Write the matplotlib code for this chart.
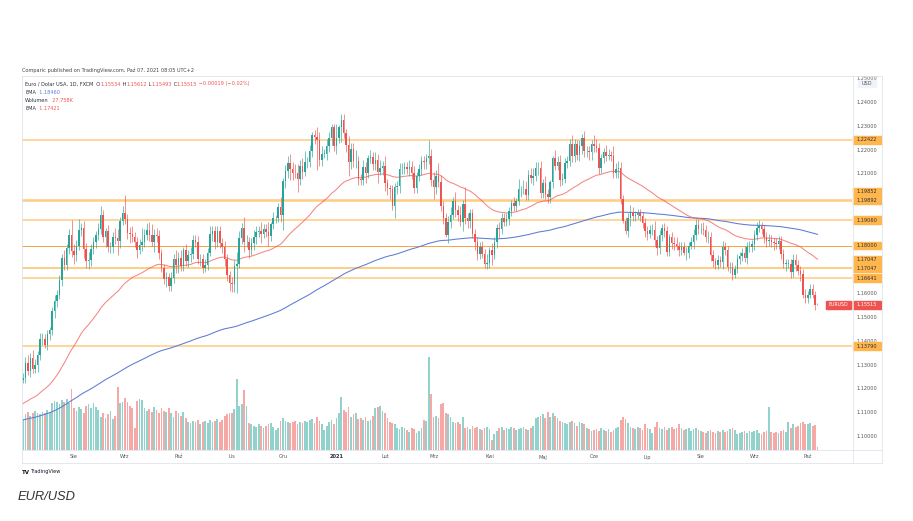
import matplotlib
matplotlib.use("Agg")
import matplotlib.pyplot as plt
from matplotlib.lines import Line2D
from matplotlib.patches import Rectangle
from matplotlib.transforms import blended_transform_factory
import numpy as np

plt.rcParams['font.family'] = ['DejaVu Sans']

W, H = 913, 521

def fx(px):
    return px / W

def fy(py):
    return 1 - py / H

# ============================
# 1. DATOS (EUR/USD diario, jul 2020 - oct 2021)
# ============================
etiquetas_mes = ["Lip", "Sie", "Wrz", "Paź", "Lis", "Gru", "2021", "Lut",
                 "Mrz", "Kwi", "Maj", "Cze", "Lip", "Sie", "Wrz", "Paź"]
dias_mes = [23, 21, 22, 22, 21, 22, 20, 20, 23, 22, 21, 22, 22, 22, 22, 5]

apertura_inicial = 1.1235
cierres = [
    1.1250, 1.1238, 1.1245, 1.1310, 1.1275, 1.1330, 1.1285, 1.1300, 1.1340, 1.1410, 1.1410, 1.1385,
    1.1428, 1.1445, 1.1525, 1.1568, 1.1595, 1.1655, 1.1750, 1.1717, 1.1790, 1.1845, 1.1778,
    1.1762, 1.1800, 1.1865, 1.1875, 1.1785, 1.1735, 1.1740, 1.1785, 1.1815, 1.1843, 1.1870,
    1.1930, 1.1835, 1.1860, 1.1795, 1.1795, 1.1835, 1.1830, 1.1820, 1.1905, 1.1935,
    1.1912, 1.1853, 1.1850, 1.1838, 1.1815, 1.1780, 1.1803, 1.1815, 1.1845, 1.1865, 1.1845,
    1.1815, 1.1845, 1.1840, 1.1770, 1.1705, 1.1660, 1.1670, 1.1630, 1.1665, 1.1745, 1.1720,
    1.1750, 1.1715, 1.1780, 1.1735, 1.1760, 1.1765, 1.1825, 1.1815, 1.1745, 1.1745, 1.1705,
    1.1718, 1.1770, 1.1850, 1.1860, 1.1815, 1.1860, 1.1810, 1.1795, 1.1745, 1.1675, 1.1645,
    1.1640, 1.1715, 1.1722, 1.1830, 1.1875, 1.1815, 1.1815, 1.1780, 1.1810, 1.1835, 1.1855,
    1.1860, 1.1850, 1.1870, 1.1858, 1.1840, 1.1890, 1.1915, 1.1915, 1.1962, 1.1927,
    1.2070, 1.2113, 1.2145, 1.2120, 1.2105, 1.2103, 1.2080, 1.2135, 1.2110, 1.2150, 1.2150,
    1.2195, 1.2265, 1.2255, 1.2240, 1.2160, 1.2185, 1.2185, 1.2215, 1.2250, 1.2295, 1.2215,
    1.2250, 1.2295, 1.2325, 1.2270, 1.2220, 1.2150, 1.2205, 1.2155, 1.2155, 1.2080,
    1.2075, 1.2130, 1.2105, 1.2165, 1.2170, 1.2140, 1.2160, 1.2110, 1.2125, 1.2135,
    1.2060, 1.2040, 1.2035, 1.1965, 1.2045, 1.2050, 1.2120, 1.2120, 1.2130, 1.2120,
    1.2130, 1.2105, 1.2040, 1.2090, 1.2120, 1.2155, 1.2150, 1.2165, 1.2175, 1.2075,
    1.2045, 1.2090, 1.2065, 1.1965, 1.1915, 1.1845, 1.1900, 1.1930, 1.1985, 1.1950, 1.1930,
    1.1900, 1.1975, 1.1915, 1.1905, 1.1935, 1.1850, 1.1815, 1.1765, 1.1795, 1.1765, 1.1725, 1.1728,
    1.1780, 1.1760, 1.1815, 1.1875, 1.1870, 1.1915, 1.1900, 1.1910, 1.1945, 1.1980, 1.1965,
    1.1985, 1.2035, 1.2035, 1.2035, 1.2010, 1.2095, 1.2085, 1.2090, 1.2125, 1.2125, 1.2020,
    1.2060, 1.2015, 1.2005, 1.2065, 1.2165, 1.2135, 1.2150, 1.2075, 1.2080, 1.2145, 1.2155,
    1.2225, 1.2175, 1.2225, 1.2180, 1.2215, 1.2250, 1.2195, 1.2195, 1.2190, 1.2225,
    1.2215, 1.2210, 1.2125, 1.2165, 1.2190, 1.2175, 1.2180, 1.2175, 1.2105, 1.2120, 1.2125,
    1.1995, 1.1905, 1.1860, 1.1915, 1.1940, 1.1925, 1.1930, 1.1935, 1.1925, 1.1895, 1.1860,
    1.1850, 1.1865, 1.1865, 1.1825, 1.1790, 1.1845, 1.1875, 1.1860, 1.1775, 1.1835, 1.1810,
    1.1805, 1.1800, 1.1780, 1.1795, 1.1770, 1.1770, 1.1800, 1.1815, 1.1845, 1.1885, 1.1870,
    1.1870, 1.1865, 1.1835, 1.1835, 1.1760, 1.1735, 1.1720, 1.1740, 1.1730, 1.1795, 1.1780,
    1.1710, 1.1710, 1.1675, 1.1700, 1.1745, 1.1755, 1.1770, 1.1750, 1.1795, 1.1795, 1.1805,
    1.1845, 1.1875, 1.1880, 1.1870, 1.1835, 1.1820, 1.1825, 1.1815, 1.1810, 1.1805, 1.1820,
    1.1765, 1.1725, 1.1725, 1.1725, 1.1690, 1.1740, 1.1720, 1.1695, 1.1680, 1.1595, 1.1580,
    1.1595, 1.1620, 1.1595, 1.15534, 1.15515,
]
# mechas en pips por encima / por debajo del cuerpo
mecha_sup = [
    20, 25, 20, 25, 30, 20, 35, 25, 20, 25, 25, 20, 20, 15, 20, 25, 20, 20, 15, 30, 15, 25, 63,
    30, 25, 45, 20, 30, 25, 35, 20, 20, 20, 25, 36, 20, 15, 25, 20, 20, 40, 40, 15, 30,
    76, 20, 25, 30, 20, 20, 25, 60, 25, 30, 35, 45, 25, 30, 25, 15, 20, 20, 15, 25, 20, 35,
    25, 30, 15, 25, 20, 30, 20, 20, 25, 20, 20, 25, 20, 30, 20, 20, 20, 20, 20, 25, 20, 20,
    25, 25, 50, 30, 20, 45, 30, 20, 20, 30, 25, 20, 40, 20, 20, 40, 10, 25, 15, 15, 40,
    15, 25, 30, 40, 30, 35, 40, 25, 30, 45, 20, 25, 10, 20, 40, 35, 30, 20, 30, 25, 15, 15,
    60, 10, 24, 25, 20, 40, 25, 25, 45, 20, 20, 30, 20, 15, 30, 20, 30, 25, 35, 20,
    40, 20, 15, 20, 15, 20, 25, 25, 20, 20, 30, 25, 30, 20, 20, 20, 20, 20, 68, 30,
    35, 25, 55, 30, 20, 20, 25, 30, 20, 40, 20, 35, 15, 70, 20, 20, 20, 20, 20, 20, 25, 20, 35,
    15, 30, 20, 15, 25, 20, 20, 25, 15, 10, 25, 15, 45, 15, 40, 35, 20, 30, 35, 25, 25, 30,
    20, 30, 20, 10, 10, 35, 25, 30, 25, 20, 20, 20, 40, 20, 15, 25, 16, 30, 20, 20, 15,
    40, 30, 20, 20, 20, 30, 25, 15, 40, 25, 30, 25, 15, 15, 20, 30, 20, 15, 20, 20, 15, 20,
    20, 20, 25, 40, 15, 20, 15, 20, 20, 15, 20, 25, 30, 15, 20, 20, 25, 15, 20, 25, 25, 25,
    25, 30, 20, 25, 20, 20, 15, 20, 15, 25, 20, 20, 20, 20, 20, 20, 20, 20, 30, 20, 25, 20,
    20, 25, 29, 20, 15, 20, 25, 20, 15, 20, 20, 20, 20, 20, 20, 20, 25, 25, 20, 20, 20, 25,
    15, 20, 20, 15, 8,
]
mecha_inf = [
    25, 20, 15, 20, 15, 25, 20, 20, 30, 20, 25, 15, 20, 25, 20, 30, 25, 20, 25, 20, 20, 25, 25,
    40, 25, 20, 25, 35, 30, 35, 25, 20, 25, 20, 20, 20, 40, 20, 25, 25, 25, 60, 30, 20,
    20, 25, 40, 25, 20, 30, 15, 25, 20, 20, 25, 15, 40, 25, 25, 15, 20, 35, 20, 20, 20, 35,
    35, 20, 20, 20, 25, 30, 20, 20, 20, 30, 20, 15, 20, 15, 30, 30, 20, 20, 25, 30, 25, 35,
    35, 35, 112, 15, 25, 40, 20, 30, 20, 30, 30, 20, 40, 20, 20, 40, 20, 20, 20, 15, 30,
    60, 30, 30, 45, 30, 20, 55, 25, 30, 20, 25, 20, 25, 30, 125, 25, 25, 20, 25, 25, 30, 20,
    30, 20, 60, 20, 30, 60, 30, 25, 30, 25, 20, 20, 45, 20, 20, 25, 25, 50, 15, 30,
    30, 30, 40, 15, 50, 30, 30, 20, 20, 20, 30, 25, 20, 20, 20, 25, 30, 30, 25, 25,
    50, 30, 20, 20, 25, 10, 35, 25, 20, 30, 25, 20, 40, 25, 30, 30, 20, 35, 25, 20, 15, 20, 25,
    20, 40, 15, 25, 40, 20, 20, 20, 25, 20, 20, 20, 15, 30, 20, 20, 20, 25, 30, 20, 30, 20,
    20, 20, 25, 25, 25, 20, 20, 25, 20, 20, 20, 20, 25, 25, 20, 25, 30, 25, 25, 30, 30,
    25, 20, 25, 20, 20, 20, 15, 20, 20, 20, 35, 20, 10, 13, 25, 35, 20, 20, 20, 20, 20, 25,
    25, 20, 20, 25, 30, 25, 25, 25, 20, 20, 25, 25, 20, 25, 20, 10, 30, 20, 15, 30, 20, 20,
    20, 20, 20, 25, 25, 25, 20, 20, 20, 30, 20, 15, 25, 20, 11, 15, 20, 20, 20, 25, 20, 20,
    25, 20, 20, 20, 25, 25, 20, 20, 30, 20, 20, 20, 20, 30, 20, 25, 20, 25, 20, 30, 15, 20,
    20, 15, 15, 25, 2,
]
# volumen en miles
volumen = [
    290, 300, 280, 320, 340, 310, 330, 350, 330, 320, 340, 330, 360, 340, 420, 440, 430, 410, 450, 430, 460, 420, 550,
    380, 350, 390, 370, 330, 400, 410, 380, 420, 390, 360, 300, 330, 290, 320, 350, 280, 310, 565, 420, 430,
    470, 430, 400, 380, 200, 440, 460, 450, 380, 350, 370, 340, 390, 360, 330, 380, 350, 340, 380, 330, 300, 350,
    330, 310, 340, 290, 250, 240, 260, 250, 270, 230, 250, 260, 240, 270, 250, 260, 280, 250, 270, 310, 320, 330,
    330, 370, 640, 400, 410, 540, 400, 240, 230, 220, 210, 230, 220, 200, 220, 230, 240, 210, 180, 200, 260,
    290, 260, 250, 240, 250, 260, 230, 250, 240, 260, 250, 270, 280, 240, 300, 260, 230, 180, 220, 250, 270, 230,
    290, 330, 480, 360, 340, 390, 300, 320, 330, 280, 290, 270, 300, 260, 270, 310, 380, 390, 400, 350,
    330, 290, 250, 240, 230, 200, 190, 210, 200, 180, 160, 200, 190, 150, 170, 200, 270, 260, 840, 500,
    300, 310, 290, 410, 420, 330, 320, 300, 250, 240, 250, 230, 300, 200, 210, 190, 220, 200, 210, 190, 180, 200, 210,
    190, 90, 140, 170, 200, 210, 180, 200, 190, 210, 200, 180, 190, 200, 210, 190, 180, 200, 220, 290, 300, 310,
    320, 290, 340, 300, 330, 310, 290, 260, 250, 240, 230, 250, 260, 240, 220, 250, 240, 230, 200, 190, 170,
    180, 190, 170, 200, 180, 170, 190, 160, 180, 200, 210, 270, 300, 280, 240, 210, 200, 190, 210, 200, 180, 230,
    200, 190, 150, 210, 250, 200, 190, 210, 180, 200, 210, 190, 200, 230, 200, 180, 190, 200, 170, 190, 200, 180,
    170, 160, 150, 170, 180, 160, 150, 170, 160, 180, 160, 170, 190, 200, 180, 140, 150, 160, 170, 150, 170, 160,
    170, 180, 150, 140, 160, 170, 390, 160, 150, 160, 150, 170, 180, 160, 250, 200, 230, 210, 220, 240, 250, 230,
    230, 240, 220, 225, 28,
]

# niveles horizontales (en el orden en que se apilan sus etiquetas)
niveles = [1.16641, 1.17047, 1.17047, 1.18000, 1.19060, 1.19892, 1.19852, 1.22422, 1.13790]
nivel_oscuro = 1.18000
precio_actual = 1.15515
ema_lenta_ini = 1.1065   # EMA azul al inicio del grafico
ema_rapida_ini = 1.1125  # EMA roja al inicio del grafico
precios_eje = [1.10, 1.11, 1.12, 1.13, 1.14, 1.15, 1.16, 1.17, 1.18, 1.19, 1.20, 1.21, 1.22, 1.23, 1.24, 1.25]

assert len(cierres) == sum(dias_mes) == len(mecha_sup) == len(mecha_inf) == len(volumen), \
    (len(cierres), sum(dias_mes), len(mecha_sup), len(mecha_inf), len(volumen))

# ============================
# 2. CALCULOS
# ============================
cierres = np.array(cierres)
aperturas = np.concatenate([[apertura_inicial], cierres[:-1]])
maximos = np.maximum(aperturas, cierres) + np.array(mecha_sup) / 10000
minimos = np.minimum(aperturas, cierres) - np.array(mecha_inf) / 10000
idx = np.arange(len(cierres))
sube = cierres >= aperturas


def ema(valores, periodo, inicio):
    alfa = 2 / (periodo + 1)
    e = inicio
    out = []
    for v in valores:
        e = e + alfa * (v - e)
        out.append(e)
    return np.array(out)


ema200 = ema(cierres, 200, ema_lenta_ini)
ema50 = ema(cierres, 50, ema_rapida_ini)

VERDE = "#26a69a"
ROJO = "#ef5350"
AZUL = "#5b7bd5"
NARANJA = "#ffcc80"
NARANJA_ETQ = "#ffb74d"
GRIS_BORDE = "#e0e3eb"
TEXTO = "#2a2e39"
FS = 3.6

# ============================
# 3. FIGURA
# ============================
fig = plt.figure(figsize=(W / 100, H / 100), dpi=100)
fig.patch.set_facecolor("white")

x0_px, x1_px, y0_px, y1_px = 22, 852, 76, 450
pos = [fx(x0_px), fy(y1_px), (x1_px - x0_px) / W, (y1_px - y0_px) / H]
xlim = (1.6, 343.2)
ylim = (1.09443, 1.2510)
px_por_unidad = (y1_px - y0_px) / (ylim[1] - ylim[0])

# volumen (detras)
axv = fig.add_axes(pos)
axv.set_xlim(*xlim)
axv.set_ylim(0, (y1_px - y0_px) * 9)
axv.axis("off")
axv.bar(idx, volumen, width=0.72, color=np.where(sube, VERDE, ROJO), alpha=0.5, linewidth=0)

# precio
ax = fig.add_axes(pos)
ax.patch.set_visible(False)
ax.set_xlim(*xlim)
ax.set_ylim(*ylim)
for s in ax.spines.values():
    s.set_visible(False)
ax.set_xticks([])
ax.set_yticks([])

for nv in niveles:
    if nv == nivel_oscuro:
        ax.axhline(nv, color="#f5a445", lw=0.7, zorder=1)
    else:
        ax.axhline(nv, color=NARANJA, lw=1.1, zorder=1)

ax.plot(idx, ema200, color=AZUL, lw=0.75, zorder=2)
ax.plot(idx, ema50, color=ROJO, lw=0.75, alpha=0.7, zorder=2)

colores = np.where(sube, VERDE, ROJO)
ax.vlines(idx, minimos, maximos, colors=colores, lw=0.45, zorder=3)
cuerpo = np.maximum(np.abs(cierres - aperturas), 0.00008)
ax.bar(idx, cuerpo, bottom=np.minimum(aperturas, cierres), width=0.62,
       color=colores, linewidth=0, zorder=4)

# etiqueta EURUSD dentro del panel
trans_ay = blended_transform_factory(ax.transAxes, ax.transData)
h_etq = 7.6 / px_por_unidad
paso_etq = 8.6 / px_por_unidad
ax.add_patch(Rectangle((0.9687, precio_actual - h_etq / 2), 0.0301, h_etq,
                       transform=trans_ay, color=ROJO, zorder=6, clip_on=False))
ax.text(0.9837, precio_actual, "EURUSD", transform=trans_ay, color="white",
        fontsize=FS * 0.95, ha="center", va="center", zorder=7)

# ============================
# 4. ESCALA DE PRECIOS (derecha)
# ============================
axp = fig.add_axes([fx(852), fy(y1_px), 30 / W, (y1_px - y0_px) / H])
axp.set_xlim(0, 1)
axp.set_ylim(*ylim)
axp.axis("off")

# apilar etiquetas para que no se pisen
colocadas = []
for nv in niveles:
    y = nv
    for otra in colocadas:
        if abs(y - otra) < paso_etq:
            y = otra + paso_etq
    colocadas.append(y)
    axp.add_patch(Rectangle((0.03, y - h_etq / 2), 0.94, h_etq, color=NARANJA_ETQ, zorder=4))
    axp.text(0.5, y, f"{nv:.5f}", color=TEXTO, fontsize=FS, ha="center", va="center", zorder=5)

axp.add_patch(Rectangle((0.03, precio_actual - h_etq / 2), 0.94, h_etq, color=ROJO, zorder=4))
axp.text(0.5, precio_actual, f"{precio_actual:.5f}", color="white", fontsize=FS,
         ha="center", va="center", zorder=5)

# marcas del eje: solo las que no quedan tapadas del todo por una etiqueta
tapes = colocadas + [precio_actual]
for p in precios_eje:
    if min(abs(p - t) for t in tapes) < 3.5 / px_por_unidad:
        continue
    axp.text(0.5, p, f"{p:.5f}", color="#555555", fontsize=FS, ha="center",
             va="center", zorder=1)
axp.add_patch(Rectangle((0.2, 1.2478 - 3.5 / px_por_unidad), 0.6, 7 / px_por_unidad,
                        color="#f0f3fa", zorder=2))
axp.text(0.5, 1.2478, "USD", color="#555555", fontsize=FS, ha="center", va="center", zorder=3)

# ============================
# 5. EJE DE TIEMPO
# ============================
trans_t = blended_transform_factory(ax.transData, fig.transFigure)
inicio = 0
for etq, n in zip(etiquetas_mes, dias_mes):
    if inicio > xlim[0]:
        negrita = etq.isdigit()
        ax.text(inicio, fy(457), etq, transform=trans_t, fontsize=FS, ha="center", va="center",
                color=TEXTO if negrita else "#555555",
                fontweight="bold" if negrita else "normal")
    inicio += n

# bordes del grafico
def linea(xa, ya, xb, yb):
    fig.add_artist(Line2D([fx(xa), fx(xb)], [fy(ya), fy(yb)], color=GRIS_BORDE, lw=0.6,
                          transform=fig.transFigure))

linea(22, 76, 882, 76)
linea(22, 463, 882, 463)
linea(22, 450, 882, 450)
linea(22, 76, 22, 463)
linea(882, 76, 882, 463)
linea(852.5, 76, 852.5, 463)

# ============================
# 6. TEXTOS
# ============================
rend = fig.canvas.get_renderer()


def texto_multicolor(x_px, y_px, piezas, size=FS, **kw):
    x = fx(x_px)
    for s, c in piezas:
        t = fig.text(x, fy(y_px), s, color=c, fontsize=size, va="center", ha="left", **kw)
        x += t.get_window_extent(renderer=rend).width / W


texto_multicolor(22, 70, [("Comparic published on TradingView.com, Paź 07, 2021 08:05 UTC+2", "#444444")])
texto_multicolor(25, 84, [("Euro / Dolar USA, 1D, FXCM", TEXTO), ("  O", TEXTO), ("1.15534", ROJO),
                          (" H", TEXTO), ("1.15612", ROJO), (" L", TEXTO), ("1.15493", ROJO),
                          (" C", TEXTO), ("1.15515", ROJO), (" −0.00019 (−0.02%)", ROJO)])
texto_multicolor(25, 92, [("EMA", TEXTO), ("  1.18460", AZUL)])
texto_multicolor(25, 100, [("Wolumen", TEXTO), ("  27.758K", ROJO)])
texto_multicolor(25, 108, [("EMA", TEXTO), ("  1.17421", ROJO)])

texto_multicolor(22, 472, [("TV", "#131722")], size=FS + 0.4, fontweight="bold")
texto_multicolor(30, 472, [("TradingView", "#131722")])

fig.text(fx(18), fy(497), "EUR/USD", fontsize=9.3, fontstyle="italic", color="#333333",
         family=["Liberation Sans", "DejaVu Sans"], ha="left", va="center")

fig.savefig("out.png", dpi=100, facecolor="white")
